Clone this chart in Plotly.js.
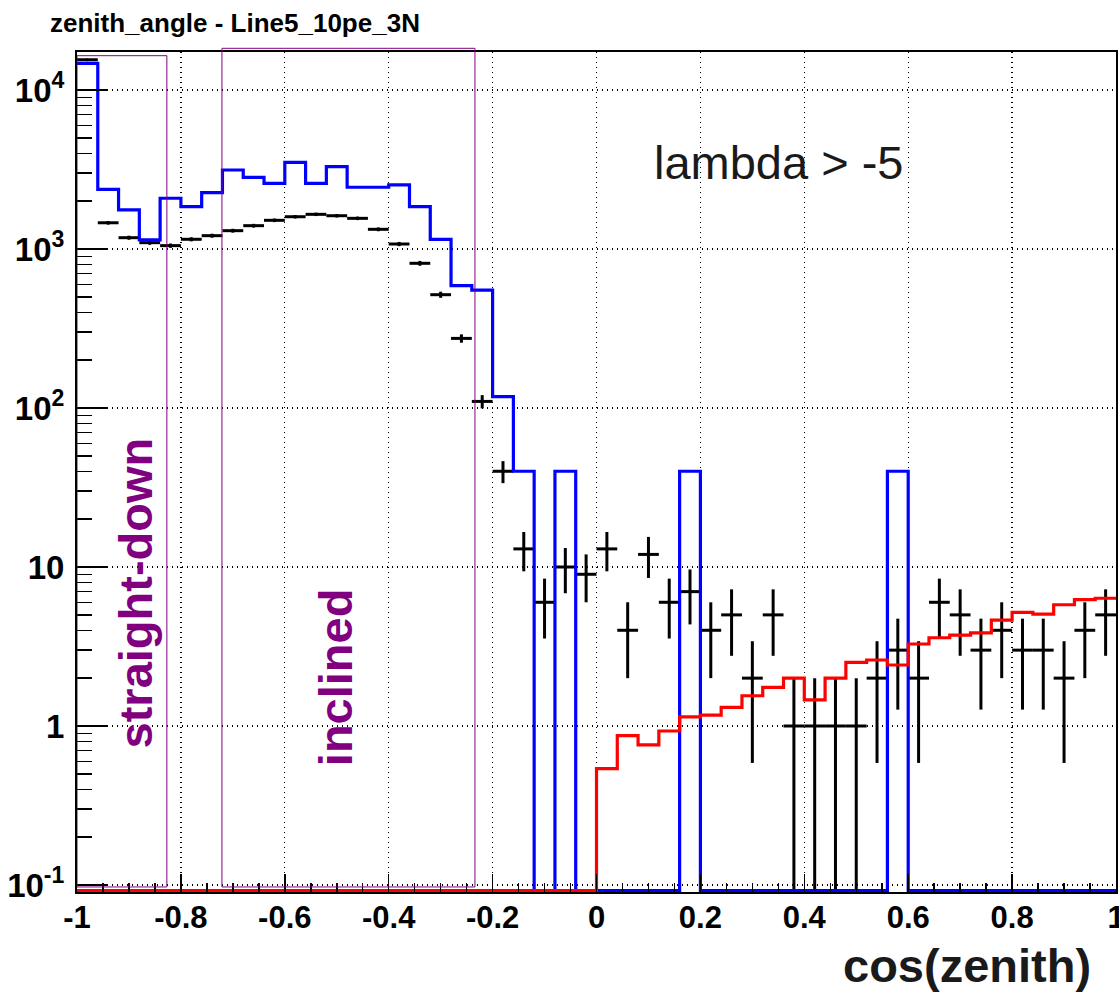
<!DOCTYPE html>
<html>
<head>
<meta charset="utf-8">
<script src="https://cdn.plot.ly/plotly-3.0.1.min.js"></script>
<style>
html,body{margin:0;padding:0;background:#fff;}
#chart{width:1119px;height:993px;}
</style>
</head>
<body>
<div id="chart"></div>
<script>
// ---- histogram binning: 50 bins of cos(zenith) from -1 to 1 ----
const binLow = -1;
const binWidth = 0.04;
const nBins = 50;

// ---- data (black points with Poisson errors) ----
const dataCounts = [15500, 1462, 1178, 1096, 1050, 1151, 1213, 1304, 1402, 1515,
                    1596, 1652, 1619, 1559, 1330, 1075, 813, 516, 274, 110,
                    40, 13, 6, 10, 9, 13, 4, 12, 6, 7,
                    4, 5, 2, 5, 1, 1, 1, 1, 2, 3,
                    2, 6, 5, 3, 4, 3, 3, 2, 4, 5];

// ---- blue histogram ----
const blueCounts = [14700, 2370, 1760, 1140, 2085, 1846, 2260, 3140, 2825, 2590,
                    3510, 2590, 3300, 2445, 2445, 2530, 1846, 1151, 588, 552,
                    118, 40, 0, 40, 0, 0, 0, 0, 0, 40,
                    0, 0, 0, 0, 0, 0, 0, 0, 0, 40,
                    0, 0, 0, 0, 0, 0, 0, 0, 0, 0];

// ---- red histogram ----
const redCounts = [0, 0, 0, 0, 0, 0, 0, 0, 0, 0,
                   0, 0, 0, 0, 0, 0, 0, 0, 0, 0,
                   0, 0, 0, 0, 0, 0.54, 0.87, 0.76, 0.93, 1.14,
                   1.17, 1.31, 1.55, 1.75, 2.0, 1.46, 2.0, 2.51, 2.60, 2.42,
                   3.28, 3.59, 3.73, 3.85, 4.64, 5.19, 5.06, 5.79, 6.23, 6.36];

// ---- tick labels ----
const xTickVals = [-1, -0.8, -0.6, -0.4, -0.2, 0, 0.2, 0.4, 0.6, 0.8, 1];
const xTickText = ['-1', '-0.8', '-0.6', '-0.4', '-0.2', '0', '0.2', '0.4', '0.6', '0.8', '1'];
const yTickVals = [0.1, 1, 10, 100, 1000, 10000];
const yTickText = ['10<sup>-1</sup>', '1', '10', '10<sup>2</sup>', '10<sup>3</sup>', '10<sup>4</sup>'];

// ---- text ----
const chartTitle = 'zenith_angle - Line5_10pe_3N';
const xTitle = 'cos(zenith)';
const cutLabel = 'lambda > -5';
const regionLabels = ['straight-down', 'inclined'];
const regionRanges = [[-1, -0.827], [-0.721, -0.234]];

// ---- drawing helpers ----
const Y_RANGE = [-1.044, 4.239];      // log10 range of the frame
const FLOOR = Math.pow(10, -1.035);   // where empty bins are drawn (frame bottom)
const edges = [];
for (let i = 0; i <= nBins; i++) edges.push(+(binLow + i * binWidth).toFixed(4));
const centers = [];
for (let i = 0; i < nBins; i++) centers.push(+(binLow + (i + 0.5) * binWidth).toFixed(4));

function stepTrace(counts, color) {
  const xs = [], ys = [];
  for (let i = 0; i < nBins; i++) {
    xs.push(edges[i]);
    ys.push(counts[i] > 0 ? counts[i] : FLOOR);
  }
  xs.push(edges[nBins]); ys.push(counts[nBins - 1] > 0 ? counts[nBins - 1] : FLOOR);
  return {
    type: 'scatter', mode: 'lines', x: xs, y: ys,
    line: {shape: 'hv', color: color, width: 3.2},
    hoverinfo: 'skip', showlegend: false
  };
}

const dataTrace = {
  type: 'scatter', mode: 'markers',
  x: centers, y: dataCounts,
  marker: {size: 3, color: '#000'},
  error_x: {type: 'constant', value: binWidth / 2, width: 0, thickness: 3, color: '#000'},
  error_y: {type: 'data', array: dataCounts.map(Math.sqrt), width: 0, thickness: 3, color: '#000'},
  showlegend: false
};

const minorY = [];
for (let d = -1; d <= 4; d++) for (let k = 2; k <= 9; k++) minorY.push(k * Math.pow(10, d));

const FONT = 'Liberation Sans, Arial, Helvetica, sans-serif';
const PURPLE = '#800080';
const GRIDDASH = '1px,4px';

const layout = {
  width: 1119, height: 993,
  margin: {l: 77, r: 3, t: 52, b: 101, pad: 0},
  paper_bgcolor: '#fff', plot_bgcolor: '#fff',
  showlegend: false,
  title: {
    text: chartTitle,
    x: 50 / 1119, xref: 'container', xanchor: 'left',
    y: 1 - 23 / 993, yref: 'container', yanchor: 'middle',
    font: {family: FONT, size: 26, color: '#000', weight: 'bold'}
  },
  xaxis: {
    range: [-1, 1], autorange: false,
    tickmode: 'array', tickvals: xTickVals, ticktext: xTickText,
    ticks: 'inside', ticklen: 18, tickwidth: 1.5, tickcolor: '#000',
    minor: {tickmode: 'linear', tick0: -1, dtick: 0.05, ticks: 'inside', ticklen: 9, tickwidth: 1.5, tickcolor: '#000', showgrid: false},
    showgrid: true, gridcolor: '#000', griddash: GRIDDASH, gridwidth: 1.2,
    showline: true, mirror: true, linecolor: '#000', linewidth: 2,
    zeroline: false,
    tickfont: {family: FONT, size: 31, color: '#000', weight: 'bold'},
    ticklabelstandoff: -3,
    ticklabeloverflow: 'allow'
  },
  yaxis: {
    type: 'log', range: Y_RANGE, autorange: false,
    tickmode: 'array', tickvals: yTickVals, ticktext: yTickText,
    ticks: 'inside', ticklen: 30, tickwidth: 1.5, tickcolor: '#000',
    minor: {tickmode: 'array', tickvals: minorY, ticks: 'inside', ticklen: 15, tickwidth: 1.5, tickcolor: '#000', showgrid: false},
    showgrid: true, gridcolor: '#000', griddash: GRIDDASH, gridwidth: 1.2,
    showline: true, mirror: true, linecolor: '#000', linewidth: 2,
    zeroline: false,
    tickfont: {family: FONT, size: 33, color: '#000', weight: 'bold'},
    ticklabelstandoff: 4,
    ticklabeloverflow: 'allow'
  },
  shapes: [
    {type: 'rect', xref: 'x', yref: 'paper', x0: regionRanges[0][0], x1: regionRanges[0][1], y0: 0.006, y1: 0.9956,
     line: {color: PURPLE, width: 1}, fillcolor: 'rgba(0,0,0,0)', layer: 'above'},
    {type: 'rect', xref: 'x', yref: 'paper', x0: regionRanges[1][0], x1: regionRanges[1][1], y0: 0.006, y1: 1.0044,
     line: {color: PURPLE, width: 1}, fillcolor: 'rgba(0,0,0,0)', layer: 'above'}
  ],
  annotations: [
    {text: cutLabel, xref: 'paper', yref: 'paper', x: 0.553, y: 0.868, xanchor: 'left', yanchor: 'middle',
     showarrow: false, font: {family: FONT, size: 47, color: '#1a1a1a'}},
    {text: regionLabels[0], xref: 'paper', yref: 'paper', x: 0.0567, y: 0.3565, xanchor: 'center', yanchor: 'middle',
     textangle: -90, showarrow: false, font: {family: FONT, size: 47, color: PURPLE, weight: 'bold'}},
    {text: regionLabels[1], xref: 'paper', yref: 'paper', x: 0.249, y: 0.2554, xanchor: 'center', yanchor: 'middle',
     textangle: -90, showarrow: false, font: {family: FONT, size: 47, color: PURPLE, weight: 'bold'}},
    {text: xTitle, xref: 'paper', yref: 'paper', x: 0.978, y: -0.088, xanchor: 'right', yanchor: 'middle',
     showarrow: false, font: {family: FONT, size: 47, color: '#1a1a1a', weight: 'bold'}}
  ]
};

Plotly.newPlot('chart', [dataTrace, stepTrace(blueCounts, '#0000ff'), stepTrace(redCounts, '#ff0000')], layout,
  {staticPlot: true, displayModeBar: false});
</script>
</body>
</html>
